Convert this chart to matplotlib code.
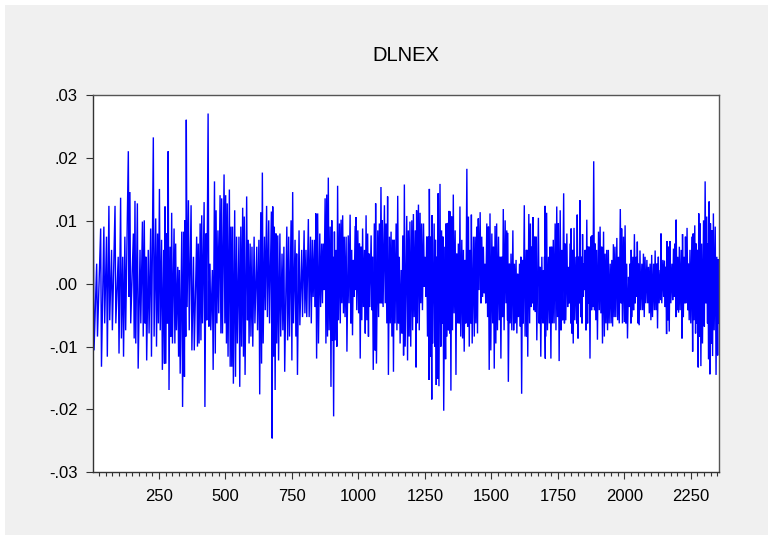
import numpy as np
import matplotlib
matplotlib.use("Agg")
import matplotlib.pyplot as plt
from matplotlib.patches import Rectangle
from matplotlib.ticker import MultipleLocator, FuncFormatter

obs = [
    3, 16, 31, 43, 53, 62, 72, 85, 97, 106, 114, 122, 135, 141, 154, 160, 169, 179, 188, 195,
    201, 210, 219, 229, 238, 245, 252, 260, 268, 273, 279, 285, 292, 298, 307, 313, 321, 327, 336, 343,
    348, 353, 361, 371,
    380, 392, 398, 405, 411, 420, 427, 435, 442, 451, 459, 465, 472, 480, 486, 495, 501, 507, 515, 521,
    527, 535, 542, 551, 558, 565, 571, 580, 586, 593, 600, 608, 618, 626, 633, 639, 647, 655, 663, 673,
    678, 684, 690, 697, 705, 713, 720, 731, 738, 747, 753, 762, 768,
    777, 787, 796, 803, 812, 820, 827, 835, 840, 847, 855, 862, 868, 875, 881, 887, 894, 900, 904, 910,
    916, 922, 929, 935, 941, 947, 954, 962, 969, 975, 981, 988, 991, 998, 1004, 1010, 1016, 1023, 1029, 1035,
    1040, 1048, 1053, 1060, 1065, 1073, 1079, 1085, 1090, 1098, 1104, 1110, 1117, 1123, 1129, 1135, 1142, 1148, 1154, 1161,
    1167, 1173,
    1182, 1188, 1194, 1201, 1207, 1214, 1219, 1226, 1232, 1238, 1245, 1251, 1257, 1263, 1267, 1273, 1277, 1285, 1290, 1295,
    1300, 1307, 1313, 1318, 1325, 1330, 1336, 1341, 1345, 1351, 1357, 1364, 1370, 1376, 1382, 1389, 1395, 1401, 1408, 1414,
    1420, 1425, 1433, 1439, 1445, 1451, 1458, 1464, 1470, 1476, 1483, 1489, 1495, 1502, 1508, 1514, 1520, 1527, 1533, 1539,
    1545, 1552, 1558,
    1561, 1568, 1574, 1581, 1587, 1593, 1599, 1606, 1611, 1617, 1624, 1631, 1634, 1641, 1647, 1652, 1657, 1662, 1668, 1677,
    1683, 1690, 1696, 1700, 1702, 1708, 1715, 1721, 1727, 1733, 1740, 1746, 1752, 1759, 1765, 1772, 1777, 1784, 1790, 1796,
    1800, 1805, 1811, 1818, 1823, 1828, 1833, 1838, 1843, 1848, 1853, 1859, 1863, 1868, 1874, 1879, 1885, 1890, 1896, 1903,
    1909, 1915, 1922, 1928, 1934, 1940, 1947, 1953, 1959,
    1965, 1972, 1978, 1985, 1990, 1997, 2003, 2009, 2016, 2022, 2026, 2032, 2038, 2044, 2049, 2053, 2059, 2066, 2072, 2078,
    2085, 2091, 2097, 2103, 2110, 2116, 2122, 2128, 2135, 2138, 2145, 2151, 2156, 2161, 2166, 2172, 2179, 2185, 2191, 2195,
    2201, 2207, 2214, 2219, 2225, 2230, 2236, 2241, 2247, 2254, 2259, 2265, 2270, 2275, 2280, 2285, 2291, 2298, 2304, 2310,
    2314, 2319, 2324, 2329, 2335, 2342, 2348, 2353,
]

# Local highs of DLNEX (in thousandths)
high_permille = [
    13.0, 3.2, 8.8, 9.1, 7.5, 12.4, 5.4, 12.4, 4.3, 13.7, 4.3, 7.5, 21.1, 14.6, 8.0, 13.2, 12.8, 5.4, 9.9, 10.1,
    4.3, 5.4, 8.8, 23.3, 10.4, 8.0, 15.1, 7.0, 5.4, 12.3, 8.0, 21.1, 5.9, 11.3, 8.8, 6.4, 2.7, 2.2, 8.3, 8.3,
    10.1, 26.1, 13.3, 12.5,
    4.3, 7.5, 6.4, 9.6, 10.9, 13.0, 8.0, 27.1, 3.2, 2.2, 16.3, 11.7, 8.5, 14.1, 13.6, 17.4, 14.1, 12.8, 15.0, 9.1,
    9.1, 11.7, 7.5, 7.5, 9.1, 12.1, 10.7, 13.9, 7.0, 6.4, 5.9, 7.5, 5.9, 7.0, 11.4, 17.7, 7.5, 12.4, 10.1, 11.5,
    12.3, 9.1, 8.0, 7.7, 8.0, 4.8, 5.9, 9.1, 7.5, 10.1, 14.6, 7.0, 4.8,
    8.5, 5.4, 8.5, 5.4, 10.3, 7.5, 7.0, 7.0, 11.2, 11.2, 8.0, 6.4, 6.4, 13.6, 14.2, 16.9, 9.1, 10.1, 4.3, 8.3,
    5.4, 15.6, 9.6, 10.2, 10.9, 7.5, 7.5, 7.7, 11.0, 5.4, 3.8, 9.2, 10.6, 8.5, 6.4, 5.9, 8.8, 5.4, 10.9, 8.0,
    4.8, 7.7, 4.3, 9.6, 12.8, 8.5, 9.6, 15.4, 10.1, 12.5, 9.6, 13.9, 7.5, 8.3, 7.0, 7.0, 9.6, 14.0, 4.3, 2.2,
    7.7, 15.8,
    10.8, 8.5, 9.9, 10.1, 11.1, 8.5, 11.7, 12.6, 11.3, 9.6, 9.6, 4.3, 7.5, 7.5, 15.1, 7.5, 10.9, 9.6, 7.0, 4.3,
    14.4, 15.9, 8.5, 7.5, 5.9, 9.6, 9.7, 11.6, 11.5, 10.7, 14.2, 8.5, 4.8, 6.4, 12.3, 7.0, 5.4, 3.8, 18.3, 10.7,
    5.4, 11.0, 7.5, 7.5, 9.1, 10.4, 11.4, 7.5, 5.9, 3.2, 9.6, 9.1, 11.2, 8.0, 5.9, 9.2, 9.6, 7.5, 4.3, 4.3,
    11.9, 10.1, 8.5,
    8.1, 3.2, 4.8, 8.5, 3.2, 3.8, 1.6, 3.2, 4.3, 3.8, 12.5, 5.4, 5.4, 11.1, 9.6, 5.9, 10.6, 7.5, 7.5, 10.5,
    2.7, 4.3, 2.2, 4.3, 12.4, 11.3, 4.3, 5.9, 5.9, 7.0, 9.6, 12.3, 9.6, 11.7, 5.4, 14.4, 6.4, 8.0, 2.7, 6.4,
    8.8, 5.4, 8.9, 4.3, 11.0, 4.3, 13.3, 4.3, 7.9, 3.2, 5.4, 10.2, 5.9, 5.9, 7.5, 7.7, 19.5, 6.4, 5.4, 8.3,
    9.1, 5.9, 8.3, 4.8, 5.4, 5.4, 3.2, 3.8, 6.3,
    5.9, 7.3, 4.3, 11.9, 8.8, 7.5, 9.3, 3.2, 1.1, 3.2, 5.4, 4.3, 7.9, 4.3, 6.7, 3.2, 5.3, 3.2, 4.8, 4.3,
    3.8, 2.7, 3.2, 4.6, 3.2, 5.3, 3.2, 4.3, 2.2, 8.0, 3.8, 3.7, 2.7, 6.8, 5.9, 6.8, 3.2, 5.6, 6.4, 10.2,
    4.3, 5.9, 5.4, 7.9, 4.3, 7.5, 8.9, 3.2, 5.4, 7.5, 8.0, 9.3, 6.4, 5.4, 11.2, 9.6, 6.4, 10.1, 16.3, 10.7,
    6.4, 13.1, 9.6, 8.5, 11.2, 9.1, 4.3, 3.9,
]

# Local lows of DLNEX (in thousandths)
low_permille = [
    -10.6, -8.4, -13.2, -6.3, -11.6, -5.8, -7.4, -6.3, -11.1, -8.7, -11.6, -7.4, -2.1, -6.3, -8.7, -9.5, -13.5, -6.3, -8.4, -6.3,
    -12.2, -7.9, -11.6, -8.4, -10.0, -6.3, -7.4, -13.7, -12.7, -12.7, -6.3, -16.9, -8.4, -9.5, -9.5, -7.4, -11.6, -14.3, -19.6, -14.8,
    -8.4, -3.7, -7.4, -10.6,
    -10.6, -10.0, -9.5, -9.0, -6.3, -19.6, -5.8, -6.8, -7.4, -13.7, -11.1, -6.3, -4.7, -7.9, -7.9, -6.3, -9.5, -11.6, -13.2, -13.2,
    -15.9, -14.8, -9.5, -16.4, -10.0, -11.6, -14.5, -5.8, -9.5, -8.4, -10.0, -6.3, -7.4, -17.6, -12.7, -9.5, -4.2, -5.3, -6.3, -24.6,
    -11.6, -16.9, -9.5, -12.2, -8.4, -7.4, -14.0, -9.0, -8.4, -12.2, -6.3, -8.4, -14.5,
    -6.6, -5.3, -4.7, -5.3, -5.3, -6.3, -2.1, -3.7, -11.9, -9.5, -3.7, -3.1, -1.0, -9.5, -8.4, -7.4, -16.4, -9.0, -21.1, -9.0,
    -10.0, -5.8, -6.3, -3.1, -4.7, -5.3, -10.8, -3.1, -6.3, -8.2, -2.1, -1.0, -4.2, -4.7, -11.9, -5.8, -3.7, -7.9, -5.8, -8.4,
    -3.7, -4.2, -13.7, -10.6, -12.7, -5.3, -3.1, -3.1, -3.7, -3.1, -6.3, -14.5, -6.3, -8.4, -14.0, -6.3, -7.4, -6.3, -9.5, -7.9,
    -11.4, -10.0,
    -12.2, -8.4, -10.0, -7.4, -5.3, -13.3, -6.3, -7.4, -3.1, -4.2, -0.5, -2.1, -8.4, -15.3, -11.6, -18.4, -9.5, -10.0, -16.1, -15.1,
    -16.3, -10.0, -6.3, -20.2, -12.0, -8.4, -7.4, -7.9, -17.0, -7.4, -4.7, -14.5, -6.3, -6.3, -8.4, -8.7, -10.8, -6.3, -6.8, -10.0,
    -6.3, -9.5, -8.4, -6.3, -7.9, -1.0, -3.1, -2.1, -1.5, -3.1, -5.3, -13.7, -10.6, -6.3, -13.5, -9.5, -7.4, -5.8, -11.9, -5.3,
    -7.4, -3.1, -5.8,
    -15.6, -6.3, -7.4, -7.4, -6.3, -7.9, -5.3, -6.8, -17.5, -6.3, -8.4, -8.4, -11.6, -6.3, -3.7, -3.1, -4.2, -4.5, -9.0, -6.3,
    -11.6, -6.3, -6.3, -11.9, -8.4, -7.4, -6.3, -11.9, -6.3, -6.3, -7.4, -5.3, -12.3, -7.4, -5.8, -6.3, -5.8, -3.7, -3.1, -6.3,
    -7.9, -9.5, -5.8, -6.3, -8.7, -3.1, -5.3, -6.3, -2.1, -1.0, -7.4, -6.3, -3.1, -11.9, -4.2, -3.7, -4.2, -5.8, -8.9, -4.2,
    -4.7, -9.5, -8.4, -6.3, -7.4, -6.3, -6.3, -6.8, -5.3,
    -5.3, -5.8, -6.3, -3.1, -6.3, -6.1, -6.3, -8.7, -3.7, -6.3, -5.3, -4.2, -3.1, -2.1, -6.3, -6.6, -4.2, -4.2, -5.3, -3.1,
    -3.1, -4.7, -5.8, -5.3, -4.2, -4.2, -7.1, -3.1, -2.6, -3.1, -2.1, -3.7, -8.0, -5.8, -7.6, -3.1, -2.6, -2.1, -5.3, -4.2,
    -4.6, -4.2, -8.7, -5.3, -3.1, -3.1, -4.2, -5.8, -6.3, -10.8, -5.8, -7.9, -6.3, -13.3, -8.4, -13.1, -9.5, -6.8, -3.1, -6.3,
    -12.0, -14.4, -9.5, -11.5, -7.4, -14.5, -11.4, -6.3,
]

n_obs = 2356
title = "DLNEX"

high = np.array(high_permille) / 1000.0
low = np.array(low_permille) / 1000.0
x_hi = np.array(obs, dtype=float)
x_lo = x_hi + 3
xs = np.empty(2 * len(obs))
ys = np.empty(2 * len(obs))
xs[0::2], xs[1::2] = x_hi, x_lo
ys[0::2], ys[1::2] = high, low

plt.rcParams['font.family'] = ['Liberation Sans', 'DejaVu Sans']

fig = plt.figure(figsize=(7.75, 5.38), dpi=100, facecolor='white')

# light grey panel with a thin white margin, as in the EViews export
bg = fig.add_axes([0.00645, 0.00558, 0.9845, 0.9851], zorder=-10)
bg.set_facecolor('#f0f0f0')
bg.set_xticks([])
bg.set_yticks([])
for sp in bg.spines.values():
    sp.set_visible(False)

ax = fig.add_axes([0.1196, 0.1221, 0.8081, 0.7008], zorder=1)
ax.set_facecolor('white')
ax.plot(xs, ys, color='#0000ff', lw=1.0, solid_joinstyle='miter')

ax.set_xlim(1, n_obs)
ax.set_ylim(-0.03, 0.03)
ax.xaxis.set_major_locator(MultipleLocator(250))
ax.xaxis.set_minor_locator(MultipleLocator(25))
ax.yaxis.set_major_locator(MultipleLocator(0.01))


def yfmt(v, pos):
    s = f"{v:.2f}"
    if s == "-0.00":
        s = "0.00"
    return s.replace("0.", ".", 1)


ax.yaxis.set_major_formatter(FuncFormatter(yfmt))

for sp in ['top', 'right']:
    ax.spines[sp].set_color('#555555')
    ax.spines[sp].set_linewidth(1.0)
for sp in ['left', 'bottom']:
    ax.spines[sp].set_color('#333333')
    ax.spines[sp].set_linewidth(1.0)

ax.tick_params(axis='both', which='major', direction='out', length=5, width=0.8,
               color='#333333', labelsize=12, labelcolor='black')
ax.tick_params(axis='y', pad=6)
ax.tick_params(axis='x', pad=7)
ax.tick_params(axis='x', which='minor', direction='out', length=3, width=0.8, color='#333333')
ax.tick_params(top=False, right=False)

ax.set_title(title, fontsize=14.5, pad=25, color='black')

fig.savefig("out.png", dpi=100, facecolor=fig.get_facecolor())
